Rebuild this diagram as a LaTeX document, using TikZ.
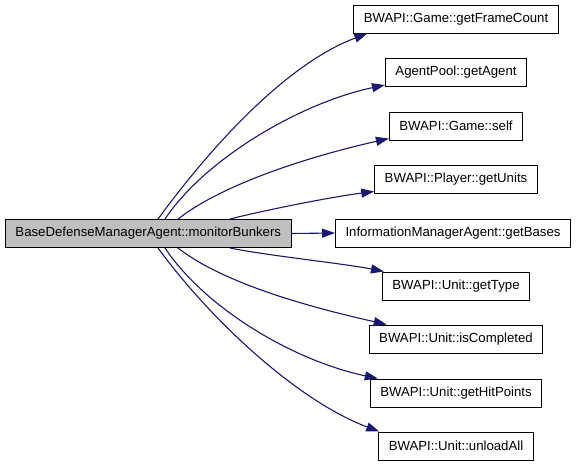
\documentclass[tikz,border=0pt]{standalone}
\usepackage{fontspec}
\setmainfont{Liberation Sans}
\usepackage{xcolor}
\usetikzlibrary{arrows.meta}
\definecolor{edgeblue}{HTML}{191970}
\definecolor{callerfill}{HTML}{BFBFBF}

\begin{document}
\begin{tikzpicture} %Grafo de llamadas
  [
    x=1pt, y=-1pt,
    % Estilos de las cajas y de las flechas
    box/.style={rectangle, draw=black, fill=white, line width=1pt, minimum height=28pt, inner xsep=10pt, font=\fontsize{13.2}{15}\selectfont},
    caller/.style={box, fill=callerfill},
    call/.style={draw=edgeblue, line width=1.1pt, -{Triangle[length=13pt,width=9pt]}}
  ]
  \useasboundingbox (0,0) rectangle (579,467);
  \node[caller, anchor=west] (bunkers) at (5,233.5) {BaseDefenseManagerAgent::monitorBunkers};
  \node[box] (frameCount) at (456,19) {BWAPI::Game::getFrameCount};
  \node[box] (getAgent) at (456,72.5) {AgentPool::getAgent};
  \node[box] (self) at (456,126) {BWAPI::Game::self};
  \node[box] (getUnits) at (456,179) {BWAPI::Player::getUnits};
  \node[box] (getBases) at (453,233) {InformationManagerAgent::getBases};
  \node[box] (getType) at (456,286) {BWAPI::Unit::getType};
  \node[box] (isCompleted) at (456,339) {BWAPI::Unit::isCompleted};
  \node[box] (hitPoints) at (456,393) {BWAPI::Unit::getHitPoints};
  \node[box] (unloadAll) at (456,446) {BWAPI::Unit::unloadAll};

  \draw[call] ([xshift=153pt]bunkers.north west) .. controls +(55,-75) and +(-80,30) .. ([xshift=14pt]frameCount.south west);
  \draw[call] ([xshift=160pt]bunkers.north west) .. controls +(40,-60) and +(-85,18) .. ([yshift=2pt]getAgent.south west);
  \draw[call] ([xshift=173pt]bunkers.north west) .. controls +(45,-35) and +(-80,18) .. ([yshift=2pt]self.south west);
  \draw[call] ([xshift=225pt]bunkers.north west) .. controls +(40,-10) and +(-40,5) .. ([yshift=2pt]getUnits.south west);
  \draw[call] (bunkers.east) -- (getBases.west);
  \draw[call] ([xshift=225pt]bunkers.south west) .. controls +(40,8) and +(-40,-8) .. ([xshift=2pt]getType.north west);
  \draw[call] ([xshift=173pt]bunkers.south west) .. controls +(45,35) and +(-80,-18) .. ([xshift=18pt]isCompleted.north west);
  \draw[call] ([xshift=160pt]bunkers.south west) .. controls +(40,60) and +(-85,-18) .. ([xshift=8pt]hitPoints.north west);
  \draw[call] ([xshift=153pt]bunkers.south west) .. controls +(55,75) and +(-80,-30) .. ([xshift=1pt]unloadAll.north west);

\end{tikzpicture}
\end{document}
